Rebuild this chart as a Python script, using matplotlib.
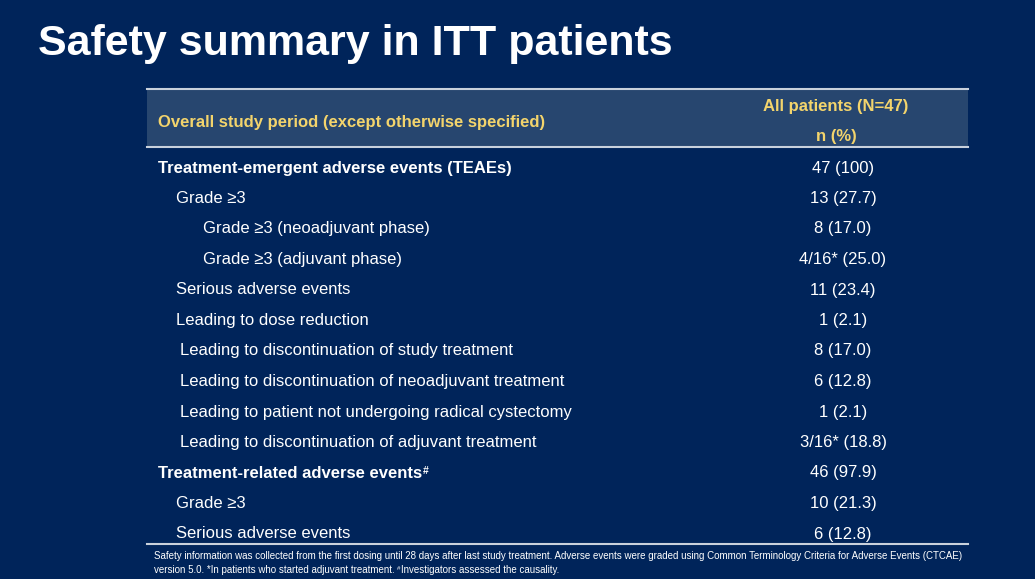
import matplotlib
matplotlib.use('Agg')
import matplotlib.pyplot as plt
from matplotlib.patches import Rectangle

# table content
labels = [
    "Treatment-emergent adverse events (TEAEs)",
    "Grade \u22653",
    "Grade \u22653 (neoadjuvant phase)",
    "Grade \u22653 (adjuvant phase)",
    "Serious adverse events",
    "Leading to dose reduction",
    "Leading to discontinuation of study treatment",
    "Leading to discontinuation of neoadjuvant treatment",
    "Leading to patient not undergoing radical cystectomy",
    "Leading to discontinuation of adjuvant treatment",
    "Treatment-related adverse events",
    "Grade \u22653",
    "Serious adverse events",
]
levels = [0, 1, 2, 2, 1, 1, 3, 3, 3, 3, 0, 1, 1]
values = ["47 (100)", "13 (27.7)", "8 (17.0)", "4/16* (25.0)", "11 (23.4)", "1 (2.1)",
          "8 (17.0)", "6 (12.8)", "1 (2.1)", "3/16* (18.8)", "46 (97.9)", "10 (21.3)", "6 (12.8)"]
header_left = "Overall study period (except otherwise specified)"
header_right = ["All patients (N=47)", "n (%)"]
title = "Safety summary in ITT patients"
foot1 = ("Safety information was collected from the first dosing until 28 days after last study treatment. "
         "Adverse events were graded using Common Terminology Criteria for Adverse Events (CTCAE)")
foot2a = "version 5.0. *In patients who started adjuvant treatment. "
foot2b = "Investigators assessed the causality."

bg = '#00245a'
band = '#27466f'
yellow = '#f3d46c'
rule = '#c9d1dc'
font = ['Liberation Sans', 'DejaVu Sans']
ffont = ['Liberation Sans Narrow', 'Liberation Sans']
indent_x = {0: 158, 1: 176, 2: 203, 3: 180}

fig = plt.figure(figsize=(10.35, 5.79), dpi=100, facecolor=bg)
ax = fig.add_axes([0, 0, 1, 1])
ax.set_xlim(0, 1035)
ax.set_ylim(579, 0)
ax.axis('off')
ax.set_facecolor(bg)

ax.text(38, 44, title, fontsize=31, fontweight='bold', color='white', va='center', family=font)

x0, x1 = 147, 968
ax.add_patch(Rectangle((x0, 89), x1 - x0, 58, color=band, lw=0))
for y in (89, 147, 544):
    ax.plot([x0, x1], [y, y], color=rule, lw=1.5)

ax.text(158, 122, header_left, fontsize=12, fontweight='bold', color=yellow, va='center', family=font)
ax.text(836, 106, header_right[0], fontsize=12, fontweight='bold', color=yellow, va='center', ha='center', family=font)
ax.text(836, 137, header_right[1], fontsize=12, fontweight='bold', color=yellow, va='center', ha='center', family=font)

fig.canvas.draw()
renderer = fig.canvas.get_renderer()
inv = ax.transData.inverted()


def right_edge(t):
    bb = t.get_window_extent(renderer)
    return inv.transform((bb.x1, bb.y1))


y_start, dy = 168, 30.5
for i, (lab, lev, val) in enumerate(zip(labels, levels, values)):
    y = y_start + i * dy
    bold = lev == 0
    t = ax.text(indent_x[lev], y, lab, fontsize=12, fontweight='bold' if bold else 'normal',
                color='white', va='center', family=font)
    if lab == "Treatment-related adverse events":
        xr, yt = right_edge(t)
        ax.text(xr + 1, yt + 1, '#', fontsize=7.5, fontweight='bold', color='white',
                va='top', family=font)
    ax.text(843, y, val, fontsize=12, color='white', va='center', ha='center', family=font)

ax.text(154, 556, foot1, fontsize=7, color='white', va='center', family=ffont)
t2 = ax.text(154, 573, foot2a, fontsize=7, color='white', va='baseline', family=ffont)
xr, _ = right_edge(t2)
t3 = ax.text(xr, 569.5, '#', fontsize=4.5, color='white', va='baseline', family=ffont)
xr3, _ = right_edge(t3)
ax.text(xr3, 573, foot2b, fontsize=7, color='white', va='baseline', family=ffont)

fig.savefig('out.png', dpi=100, facecolor=bg)
